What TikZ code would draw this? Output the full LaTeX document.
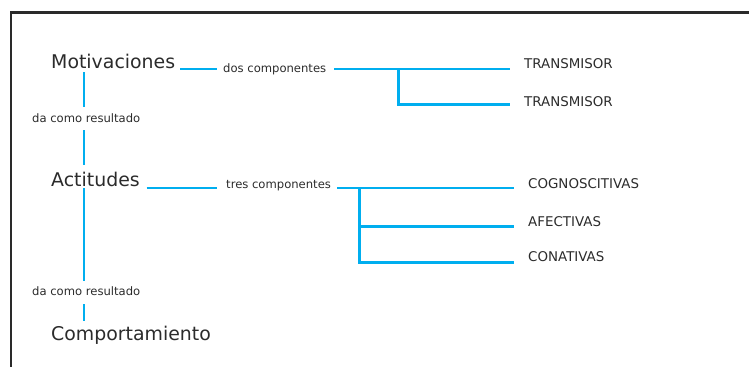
\documentclass[tikz,border=0pt]{standalone}
\usepackage{fontspec}
\setmainfont{DejaVu Sans}
\definecolor{linecyan}{HTML}{00AEEF}
\definecolor{txt}{HTML}{2B2B2B}
\definecolor{framec}{HTML}{2A2A2A}
\begin{document}
\begin{tikzpicture}[x=1pt,y=-1pt,
  big/.style={inner sep=0pt,anchor=base west,text=txt,font=\fontsize{18.9}{20}\selectfont},
  small/.style={inner sep=0pt,anchor=base west,text=txt,font=\fontsize{11.6}{13}\selectfont},
  caps/.style={inner sep=0pt,anchor=base west,text=txt,font=\fontsize{13.4}{15}\selectfont},
  conn/.style={draw=linecyan,line width=2.8pt},
  frameline/.style={draw=framec,line width=2.6pt}]
\useasboundingbox (0,0) rectangle (749,367);
\draw[frameline] (749,12.5) -- (10.8,12.5) -- (10.8,367);
% texts
\node[big] (mot) at (51,68) {Motivaciones};
\node[big] (act) at (51,186) {Actitudes};
\node[big] (comp) at (51,340) {Comportamiento};
\node[small] (da1) at (32,122) {da como resultado};
\node[small] (da2) at (32,295) {da como resultado};
\node[small] (dos) at (223,72.5) {dos componentes};
\node[small] (tres) at (226,188) {tres componentes};
\node[caps] (t1) at (524,68) {TRANSMISOR};
\node[caps] (t2) at (524,106) {TRANSMISOR};
\node[caps] (c1) at (528,188) {COGNOSCITIVAS};
\node[caps] (c2) at (528,226.5) {AFECTIVAS};
\node[caps] (c3) at (528,261.5) {CONATIVAS};
% coordinates
\coordinate (vx) at (84,0);
\coordinate (j1) at (398.3,69);
\coordinate (e1) at (510,69);
\coordinate (e2) at (510,104.5);
\coordinate (j2) at (359.3,188);
\coordinate (e3) at (514,188);
\coordinate (e4) at (514,226.5);
\coordinate (e5) at (514,262.3);
% top group
\draw[conn] (180,69) -- ([xshift=-6pt]dos.west |- j1);
\draw[conn] ([xshift=8pt]dos.east |- j1) -- (e1);
\draw[conn] (j1) |- (e2);
% bottom group
\draw[conn] (146.7,188) -- ([xshift=-9pt]tres.west |- j2);
\draw[conn] ([xshift=6pt]tres.east |- j2) -- (e3);
\draw[conn] (j2) |- (e5);
\draw[conn] (j2 |- e4) -- (e4);
% verticals
\draw[conn] ([yshift=-4pt]vx |- mot.south) -- ([yshift=6pt]vx |- da1.north);
\draw[conn] ([yshift=-8pt]vx |- da1.south) -- ([yshift=6.6pt]vx |- act.north);
\draw[conn] ([yshift=-2pt]vx |- act.south) -- ([yshift=4.5pt]vx |- da2.north);
\draw[conn] ([yshift=-9pt]vx |- da2.south) -- ([yshift=4pt]vx |- comp.north);
\end{tikzpicture}
\end{document}
